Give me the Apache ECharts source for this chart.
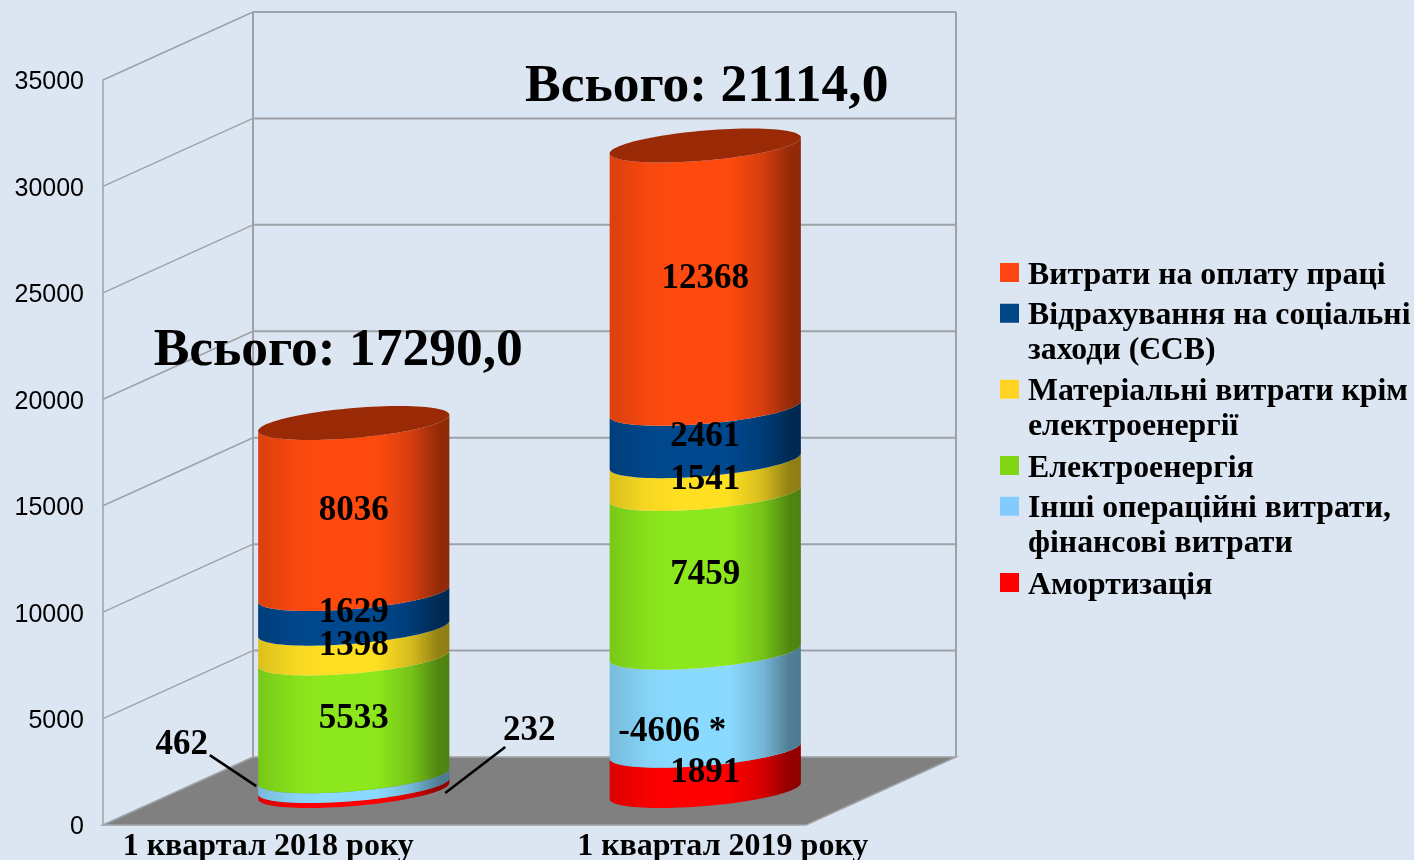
<!DOCTYPE html>
<html>
<head>
<meta charset="utf-8">
<title>Витрати</title>
<script src="https://cdn.jsdelivr.net/npm/echarts@6/dist/echarts.min.js"></script>
<style>
  html, body { margin: 0; padding: 0; background: #DCE6F2; }
  #chart { width: 1414px; height: 860px; }
</style>
</head>
<body>
<div id="chart"></div>
<script>
const categories = ["1 квартал 2018 року", "1 квартал 2019 року"];
const yTicks = [5000, 10000, 15000, 20000, 25000, 30000, 35000];
const amortization = [232, 1891];
const otherCosts = [462, -4606];
const electricity = [5533, 7459];
const materials = [1398, 1541];
const socialFund = [1629, 2461];
const wages = [8036, 12368];
const totals = [17290.0, 21114.0];

// stacked from the floor up
const stackValues = [amortization, otherCosts, electricity, materials, socialFund, wages];
const seriesNames = [
    "Амортизація",
    "Інші операційні витрати, фінансові витрати",
    "Електроенергія",
    "Матеріальні витрати крім електроенергії",
    "Відрахування на соціальні заходи (ЄСВ)",
    "Витрати на оплату праці"
];
const legendLines = [
    ["Амортизація"],
    ["Інші операційні витрати,", "фінансові витрати"],
    ["Електроенергія"],
    ["Матеріальні витрати крім", "електроенергії"],
    ["Відрахування на соціальні", "заходи (ЄСВ)"],
    ["Витрати на оплату праці"]
];
const legendColors = ["#FF0000", "#83CAFF", "#7FD414", "#FFD320", "#004586", "#FF4612"];
const midColors = ["#FF0000", "#8ADAFF", "#8CE81C", "#FFDF22", "#00488E", "#FF4A0F"];
const legendCenterY = [582, 506, 465, 389, 313, 272];

// 3D look of the chart box
const depthX = 150, depthY = -68;
const radiusRatio = 0.272, ellipseB = 15, ellipseK = 8;
const wallColor = "#9EA2A8";

// label shifts, "category-series"
const labelShift = { "1-1": [-33, 28] };
const callouts = {
    "0-1": { text: [-172, -38], line: [-144, -26, -97.5, 5] },
    "0-0": { text: [175.5, -60], line: [151.5, -41.5, 91.5, 4.5] }
};
const totalShift = [[-15.5, -72], [1.5, -58]];
const axisLabelPadding = [[0, 21, 0, 0], [0, 0, 0, 185]];

function shade(hex, f) {
    const n = parseInt(hex.slice(1), 16);
    const r = Math.round(((n >> 16) & 255) * f);
    const g = Math.round(((n >> 8) & 255) * f);
    const b = Math.round((n & 255) * f);
    return "rgb(" + r + "," + g + "," + b + ")";
}

function cylinderFill(color) {
    return new echarts.graphic.LinearGradient(0, 0, 1, 0, [
        { offset: 0, color: shade(color, 0.86) },
        { offset: 0.2, color: shade(color, 0.97) },
        { offset: 0.35, color: shade(color, 1) },
        { offset: 0.62, color: shade(color, 1) },
        { offset: 0.8, color: shade(color, 0.84) },
        { offset: 0.94, color: shade(color, 0.58) },
        { offset: 1, color: shade(color, 0.56) }
    ]);
}

// point on the front half of the tilted ellipse
function frontEdge(cx, cy, a, reverse) {
    const pts = [];
    for (let i = 0; i <= 48; i++) {
        const t = Math.PI * (reverse ? 48 - i : i) / 48;
        pts.push([cx - a * Math.cos(t), cy + ellipseB * Math.sin(t) + ellipseK * Math.cos(t)]);
    }
    return pts;
}

function renderBand(params, api) {
    const band = api.size([1, 0])[0];
    const a = band * radiusRatio;
    const low = api.coord([api.value(0), api.value(1)]);
    const high = api.coord([api.value(0), api.value(2)]);
    const cx = low[0] + depthX / 2;
    const lowY = low[1] + depthY / 2;
    const highY = high[1] + depthY / 2;
    const points = frontEdge(cx, highY, a, false).concat(frontEdge(cx, lowY, a, true));
    const children = [{
        type: "polygon",
        shape: { points: points },
        style: { fill: cylinderFill(midColors[params.seriesIndex - 2]) }
    }];
    return { type: "group", children: children };
}

function renderTop(params, api) {
    const a = api.size([1, 0])[0] * radiusRatio;
    const top = api.coord([api.value(0), api.value(1)]);
    const cx = top[0] + depthX / 2;
    const cy = top[1] + depthY / 2;
    const pts = [];
    for (let i = 0; i < 96; i++) {
        const t = Math.PI * 2 * i / 96;
        pts.push([cx - a * Math.cos(t), cy + ellipseB * Math.sin(t) + ellipseK * Math.cos(t)]);
    }
    return { type: "polygon", shape: { points: pts }, style: { fill: "#9A2A06" } };
}

function renderWallLine(params, api) {
    const box = params.coordSys;
    const y = api.coord([0, api.value(0)])[1];
    return {
        type: "group",
        children: [{
            type: "line",
            shape: { x1: box.x, y1: y, x2: box.x + depthX, y2: y + depthY },
            style: { stroke: wallColor, lineWidth: 1.5 }
        }, {
            type: "line",
            shape: { x1: box.x + depthX, y1: y + depthY, x2: box.x + box.width + depthX, y2: y + depthY },
            style: { stroke: wallColor, lineWidth: 2 }
        }]
    };
}

function renderFloor(params, api) {
    const box = params.coordSys;
    const y0 = api.coord([0, 0])[1];
    const yTop = api.coord([0, yTicks[yTicks.length - 1]])[1];
    const x0 = box.x, x1 = box.x + box.width;
    return {
        type: "group",
        children: [{
            type: "polygon",
            shape: { points: [[x0, y0], [x0 + depthX, y0 + depthY], [x1 + depthX, y0 + depthY], [x1, y0]] },
            style: { fill: "#808080", stroke: wallColor, lineWidth: 1.5 }
        }, {
            type: "line",
            shape: { x1: x0 + depthX, y1: yTop + depthY, x2: x0 + depthX, y2: y0 + depthY },
            style: { stroke: wallColor, lineWidth: 2 }
        }, {
            type: "line",
            shape: { x1: x1 + depthX, y1: yTop + depthY, x2: x1 + depthX, y2: y0 + depthY },
            style: { stroke: wallColor, lineWidth: 2 }
        }]
    };
}

function renderValueLabel(params, api) {
    const pos = api.coord([api.value(0), api.value(1)]);
    const key = api.value(0) + "-" + api.value(3);
    const cx = pos[0] + depthX / 2;
    const cy = pos[1] + depthY / 2;
    const call = callouts[key];
    const shift = call ? call.text : (labelShift[key] || [0, 0]);
    const children = [{
        type: "text",
        style: {
            x: cx + shift[0], y: cy + shift[1] + 2,
            text: labelTexts[params.dataIndex],
            fill: "#000",
            font: "bold 35px 'Liberation Serif'",
            align: "center", verticalAlign: "middle"
        }
    }];
    if (call) {
        children.push({
            type: "line",
            shape: { x1: cx + call.line[0], y1: cy + call.line[1], x2: cx + call.line[2], y2: cy + call.line[3] },
            style: { stroke: "#000", lineWidth: 2.5 }
        });
    }
    return { type: "group", children: children };
}

function renderTotal(params, api) {
    const i = api.value(0);
    const pos = api.coord([i, api.value(1)]);
    return {
        type: "text",
        style: {
            x: pos[0] + depthX / 2 + totalShift[i][0],
            y: pos[1] + depthY / 2 + totalShift[i][1],
            text: "Всього: " + totals[i].toFixed(1).replace(".", ","),
            fill: "#000",
            font: "bold 53.5px 'Liberation Serif'",
            align: "center", verticalAlign: "middle"
        }
    };
}

// running stack, the negative value is drawn by its size
const bandSeries = [];
const labelData = [];
const labelTexts = [];
const running = categories.map(() => 0);
stackValues.forEach((values, s) => {
    const rows = values.map((v, c) => {
        const base = running[c];
        running[c] = base + Math.abs(v);
        labelData.push([c, base + Math.abs(v) / 2, v, s]);
        labelTexts.push(v < 0 ? v + " *" : String(v));
        return [c, base, running[c], v];
    });
    bandSeries.push({
        name: seriesNames[s],
        type: "custom",
        z: 3 + s,
        clip: false,
        silent: true,
        itemStyle: { color: legendColors[s] },
        renderItem: renderBand,
        encode: { x: 0, y: [1, 2] },
        data: rows
    });
});

const legends = seriesNames.map((name, s) => {
    const lines = legendLines[s];
    const lineH = 34.5;
    const nudge = 6;
    // spacer line on top keeps the swatch level with the first text line
    const spacer = lines.length > 1 ? "{big| }" : "{small| }";
    const text = spacer + "\n" + lines.map(l => "{t|" + l + "}").join("\n");
    const height = lines.length > 1 ? lineH * 3 + nudge : lineH + nudge;
    const topFix = lines.length > 1 ? 20 : 3;
    return {
        data: [name],
        left: 1000,
        top: legendCenterY[s] - height / 2 + topFix,
        padding: 0,
        orient: "vertical",
        icon: "rect",
        itemWidth: 19,
        itemHeight: 19,
        itemGap: 0,
        selectedMode: false,
        formatter: () => text,
        textStyle: {
            color: "#000",
            rich: {
                big: { fontSize: 1, lineHeight: lineH + nudge },
                small: { fontSize: 1, lineHeight: nudge },
                t: {
                    color: "#000",
                    fontFamily: "Liberation Serif",
                    fontWeight: "bold",
                    fontSize: 31.8,
                    lineHeight: lineH,
                    padding: [0, 0, 0, 4]
                }
            }
        }
    };
});

const chart = echarts.init(document.getElementById("chart"));
chart.setOption({
    animation: false,
    backgroundColor: "#DCE6F2",
    legend: legends,
    grid: { left: 103, top: 80, width: 703, height: 745, containLabel: false, outerBoundsMode: "none" },
    xAxis: {
        type: "category",
        data: categories.map((c, i) => ({ value: c, textStyle: { padding: axisLabelPadding[i] } })),
        axisLine: { show: false },
        axisTick: { show: false },
        axisLabel: {
            interval: 0,
            margin: 6,
            color: "#000",
            fontFamily: "Liberation Serif",
            fontWeight: "bold",
            fontSize: 32
        }
    },
    yAxis: {
        type: "value",
        min: 0,
        max: 35000,
        interval: 5000,
        axisLine: { show: true, lineStyle: { color: wallColor, width: 1.5 } },
        axisTick: { show: false },
        splitLine: { show: false },
        axisLabel: {
            margin: 19,
            formatter: v => "{s| }\n{v|" + v + "}",
            rich: {
                s: { fontSize: 1, lineHeight: 5 },
                v: { color: "#000", fontFamily: "Liberation Sans", fontSize: 25, lineHeight: 29 }
            }
        }
    },
    series: [{
        type: "custom",
        z: 1,
        clip: false,
        silent: true,
        renderItem: renderWallLine,
        encode: { y: 0 },
        data: yTicks.map(v => [v])
    }, {
        type: "custom",
        z: 2,
        clip: false,
        silent: true,
        renderItem: renderFloor,
        data: [[0]]
    }].concat(bandSeries).concat([{
        type: "custom",
        z: 9,
        clip: false,
        silent: true,
        renderItem: renderTop,
        encode: { x: 0, y: 1 },
        data: running.map((v, c) => [c, v])
    }, {
        type: "custom",
        z: 10,
        clip: false,
        silent: true,
        renderItem: renderValueLabel,
        encode: { x: 0, y: 1 },
        data: labelData
    }, {
        type: "custom",
        z: 11,
        clip: false,
        silent: true,
        renderItem: renderTotal,
        encode: { x: 0, y: 1 },
        data: running.map((v, c) => [c, v])
    }])
});
</script>
</body>
</html>
